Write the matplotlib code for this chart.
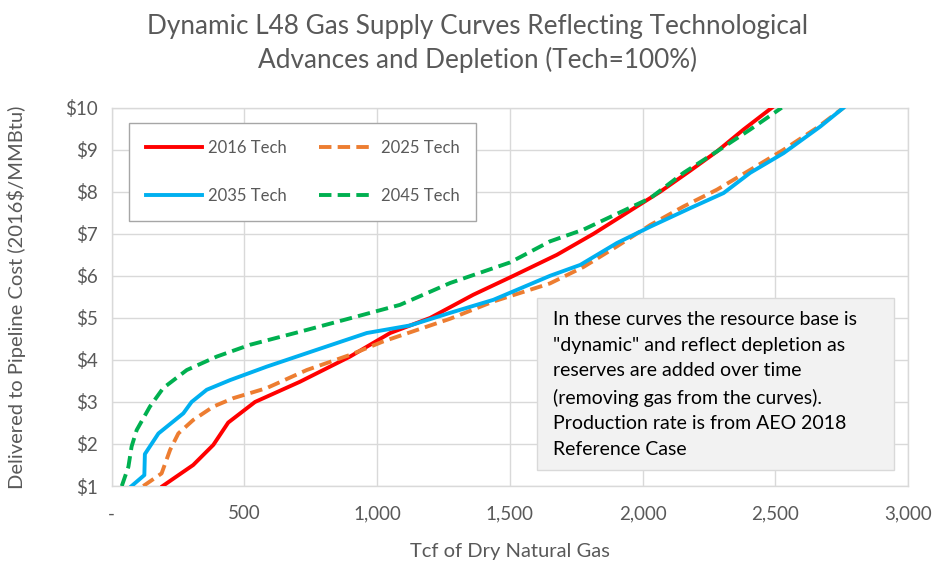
import matplotlib.pyplot as plt
from matplotlib.patches import Rectangle
from matplotlib.ticker import FuncFormatter

plt.rcParams['font.family'] = ['Lato', 'DejaVu Sans']

# 2016 Tech
x_2016 = [192, 307, 383, 439, 540, 709, 898, 1049, 1200, 1362, 1513, 1677, 1815, 1953, 2066, 2179, 2280, 2380, 2487]
y_2016 = [1.0, 1.5, 1.98, 2.51, 3.0, 3.48, 4.08, 4.64, 5.0, 5.55, 6.0, 6.5, 7.0, 7.55, 8.0, 8.5, 8.96, 9.48, 10.0]

# 2025 Tech
x_2025 = [119, 188, 220, 251, 307, 383, 458, 584, 735, 898, 1023, 1149, 1275, 1438, 1651, 1777, 1903, 2029, 2154, 2280, 2405, 2531, 2656, 2757]
y_2025 = [1.0, 1.3, 1.86, 2.25, 2.57, 2.89, 3.09, 3.33, 3.76, 4.12, 4.44, 4.71, 4.98, 5.39, 5.82, 6.21, 6.70, 7.21, 7.65, 8.05, 8.52, 9.0, 9.52, 10.0]

# 2035 Tech
x_2035 = [75, 123, 125, 176, 270, 301, 358, 446, 584, 772, 961, 1124, 1275, 1438, 1651, 1765, 1903, 2029, 2179, 2305, 2405, 2531, 2669, 2757]
y_2035 = [1.0, 1.26, 1.76, 2.25, 2.73, 3.0, 3.29, 3.52, 3.84, 4.24, 4.64, 4.82, 5.12, 5.43, 6.0, 6.26, 6.78, 7.17, 7.61, 7.97, 8.45, 8.92, 9.55, 10.0]

# 2045 Tech
x_2045 = [38, 63, 75, 94, 144, 194, 283, 396, 521, 709, 898, 1086, 1199, 1275, 1501, 1651, 1777, 2029, 2154, 2280, 2405, 2524]
y_2045 = [1.0, 1.46, 1.94, 2.33, 2.89, 3.33, 3.76, 4.08, 4.36, 4.67, 4.99, 5.31, 5.62, 5.83, 6.32, 6.82, 7.10, 7.85, 8.45, 8.96, 9.48, 10.0]

x_ticks = [0, 500, 1000, 1500, 2000, 2500, 3000]
y_ticks = [1, 2, 3, 4, 5, 6, 7, 8, 9, 10]

note = ('In these curves the resource base is\n'
        '"dynamic" and reflect depletion as\n'
        'reserves are added over time\n'
        '(removing gas from the curves).\n'
        'Production rate is from AEO 2018\n'
        'Reference Case')

grey = '#595959'
fig = plt.figure(figsize=(9.41, 5.66), dpi=100)
ax = fig.add_axes([0.1187, 0.1413, 0.8463, 0.6684])

lw = 2.8
l1, = ax.plot(x_2016, y_2016, color='#ff0000', lw=lw, label='2016 Tech', zorder=3)
l2, = ax.plot(x_2025, y_2025, color='#ed7d31', lw=lw, dashes=(3.2, 1.6), label='2025 Tech', zorder=3)
l3, = ax.plot(x_2035, y_2035, color='#00b0f0', lw=lw, label='2035 Tech', zorder=3)
l4, = ax.plot(x_2045, y_2045, color='#00b050', lw=lw, dashes=(3.2, 1.6), label='2045 Tech', zorder=3)

ax.set_xlim(0, 3000)
ax.set_ylim(1, 10)
ax.set_xticks(x_ticks)
ax.set_yticks(y_ticks)
ax.xaxis.set_major_formatter(FuncFormatter(lambda v, p: '-' if v == 0 else f'{v:,.0f}'))
ax.yaxis.set_major_formatter(FuncFormatter(lambda v, p: f'${v:.0f}'))
ax.tick_params(length=0, labelsize=13.5, labelcolor=grey)
ax.tick_params(axis='x', pad=14)
ax.tick_params(axis='y', pad=10)
ax.grid(color='#d9d9d9', lw=1)
ax.set_axisbelow(True)
for s in ax.spines.values():
    s.set_color('#d9d9d9')
    s.set_linewidth(1)

ax.set_xlabel('Tcf of Dry Natural Gas', fontsize=14.5, color=grey, labelpad=15)
ax.set_ylabel('Delivered to Pipeline Cost (2016$/MMBtu)', fontsize=14.5, color=grey, labelpad=28)

fig.text(0.507, 0.975, 'Dynamic L48 Gas Supply Curves Reflecting Technological\nAdvances and Depletion (Tech=100%)',
         ha='center', va='top', fontsize=18.8, color=grey, linespacing=1.35)

leg = ax.legend(handles=[l1, l3, l2, l4], ncol=2, loc='upper left', bbox_to_anchor=(0.0217, 0.9596),
                borderaxespad=0, fontsize=12, labelcolor=grey, handlelength=3.4, handletextpad=0.35,
                columnspacing=1.9, labelspacing=1.95, borderpad=1.0, fancybox=False, framealpha=1)
leg.get_frame().set_edgecolor('#a6a6a6')
leg.get_frame().set_linewidth(1)

# note box
fig.patches.append(Rectangle((537 / 941, 1 - 470 / 566), 357 / 941, 172 / 566, transform=fig.transFigure,
                             facecolor='#f2f2f2', edgecolor='#d9d9d9', lw=1, zorder=5))
fig.text(553 / 941, 1 - 311 / 566, note, ha='left', va='top', fontsize=14, color='#000000',
         linespacing=1.62, zorder=6)

fig.savefig('out.png', dpi=100)
